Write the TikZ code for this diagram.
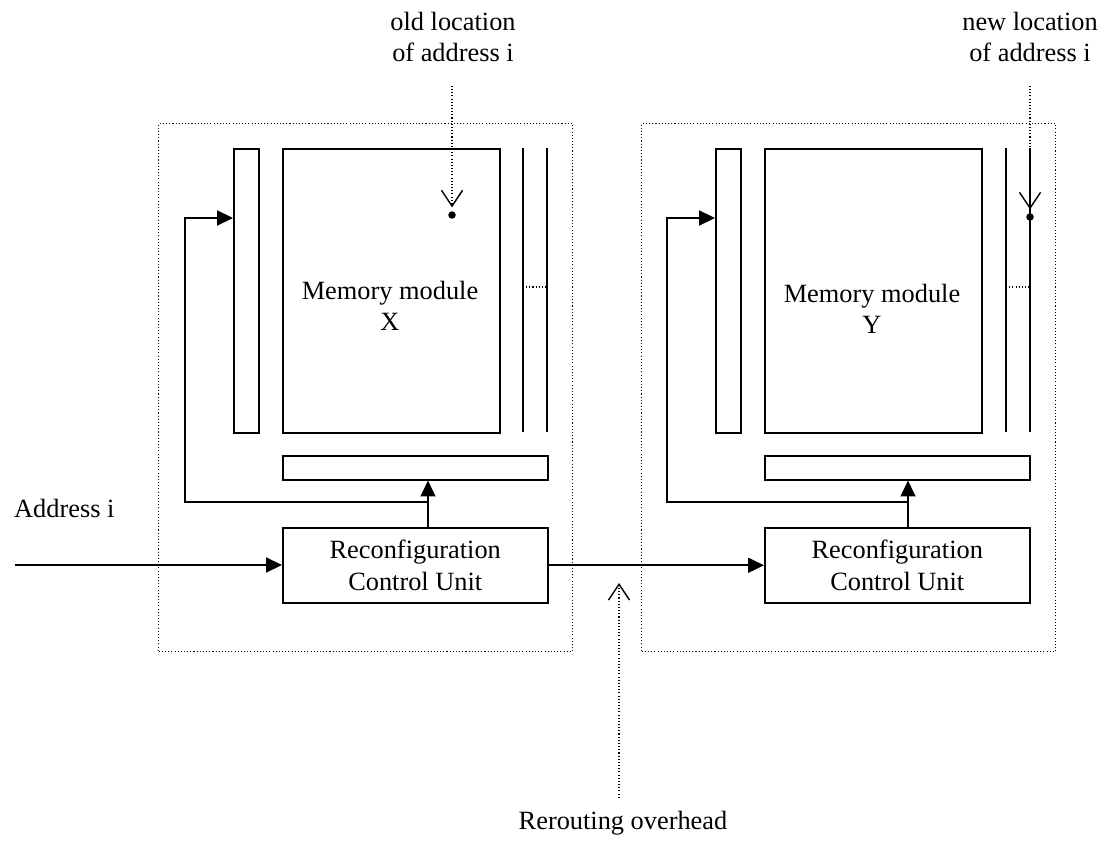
\documentclass[tikz,border=0pt]{standalone}
\usepackage{fontspec}
\setmainfont{Liberation Serif}
\usetikzlibrary{arrows.meta,positioning}

\begin{document}
\begin{tikzpicture}[
    x=0.02cm, y=-0.02cm,
    every node/.style={font=\fontsize{15}{18}\selectfont},
    fine dots/.style={dash pattern=on 0.6pt off 1.2pt, line width=0.8pt},
    module/.style={draw, fine dots, anchor=north west, inner sep=0pt,
        minimum width=8.28cm, minimum height=10.56cm},
    box/.style={draw, line width=0.9pt, anchor=north west, inner sep=0pt},
    wire/.style={line width=0.9pt},
    arr/.style={line width=0.9pt, -{Triangle[length=9pt,width=8.5pt]}},
    ptr/.style={fine dots, -{Straight Barb[length=9pt,width=12pt]}},
    dot/.style={circle, fill, inner sep=0pt, minimum size=0.15cm}
]
\useasboundingbox (0,0) rectangle (1111,841);

% module X
\node[module] (modX) at (158,123) {};
\node[box, minimum width=0.5cm, minimum height=5.68cm] (barX) at (233,148) {};
\node[box, minimum width=4.34cm, minimum height=5.68cm] (memX) at (282,148) {};
\node[align=center] (memXlbl) at (390,306) {Memory module\\X};
\node[box, minimum width=5.3cm, minimum height=0.48cm] (busX) at (282,455) {};
\node[box, minimum width=5.3cm, minimum height=1.5cm, align=center] (rcuX) at (282,527) {Reconfiguration\\Control Unit};
\draw[wire] (523,148) -- (523,432);
\draw[wire] (547,148) -- (547,432);
\draw[fine dots] (523,287) -- (547,287);

% module Y
\node[module] (modY) at (641,123) {};
\node[box, minimum width=0.5cm, minimum height=5.68cm] (barY) at (715,148) {};
\node[box, minimum width=4.34cm, minimum height=5.68cm] (memY) at (764,148) {};
\node[align=center] (memYlbl) at (872,309) {Memory module\\Y};
\node[box, minimum width=5.3cm, minimum height=0.48cm] (busY) at (764,455) {};
\node[box, minimum width=5.3cm, minimum height=1.5cm, align=center] (rcuY) at (764,527) {Reconfiguration\\Control Unit};
\draw[wire] (1006,148) -- (1006,432);
\draw[wire] (1030,148) -- (1030,432);
\draw[fine dots] (1006,287) -- (1030,287);

% control paths
\coordinate (tapX) at (428,502);
\coordinate (inX) at (185,218);
\draw[arr] (tapX |- rcuX.north) -- (tapX |- busX.south);
\draw[arr] (tapX) -| (inX) -- (inX -| barX.west);

\coordinate (tapY) at (908,502);
\coordinate (inY) at (667,218);
\draw[arr] (tapY |- rcuY.north) -- (tapY |- busY.south);
\draw[arr] (tapY) -| (inY) -- (inY -| barY.west);

% address in, rerouting between the units
\node[anchor=west] (addrLbl) at (8,508) {Address i};
\coordinate (addrIn) at (15,565);
\draw[arr] (addrIn) -- (addrIn -| rcuX.west);
\draw[arr] (rcuX.east) -- (rcuY.west);

\node (rrLbl) at (623,823) {Rerouting overhead};
\coordinate (rrTip) at (619,583);
\draw[ptr, shorten <=4pt] (rrLbl.north -| rrTip) -- (rrTip);

% old and new location of the address
\node[align=center] (oldLbl) at (453,37) {old location\\of address i};
\node[dot] (oldDot) at (452,215) {};
\draw[ptr, shorten <=10pt, shorten >=2pt] (oldLbl.south -| oldDot) -- (oldDot.north);

\node[align=center] (newLbl) at (1030,37) {new location\\of address i};
\node[dot] (newDot) at (1030,217) {};
\draw[ptr, shorten <=10pt, shorten >=2pt] (newLbl.south -| newDot) -- (newDot.north);
\end{tikzpicture}
\end{document}
